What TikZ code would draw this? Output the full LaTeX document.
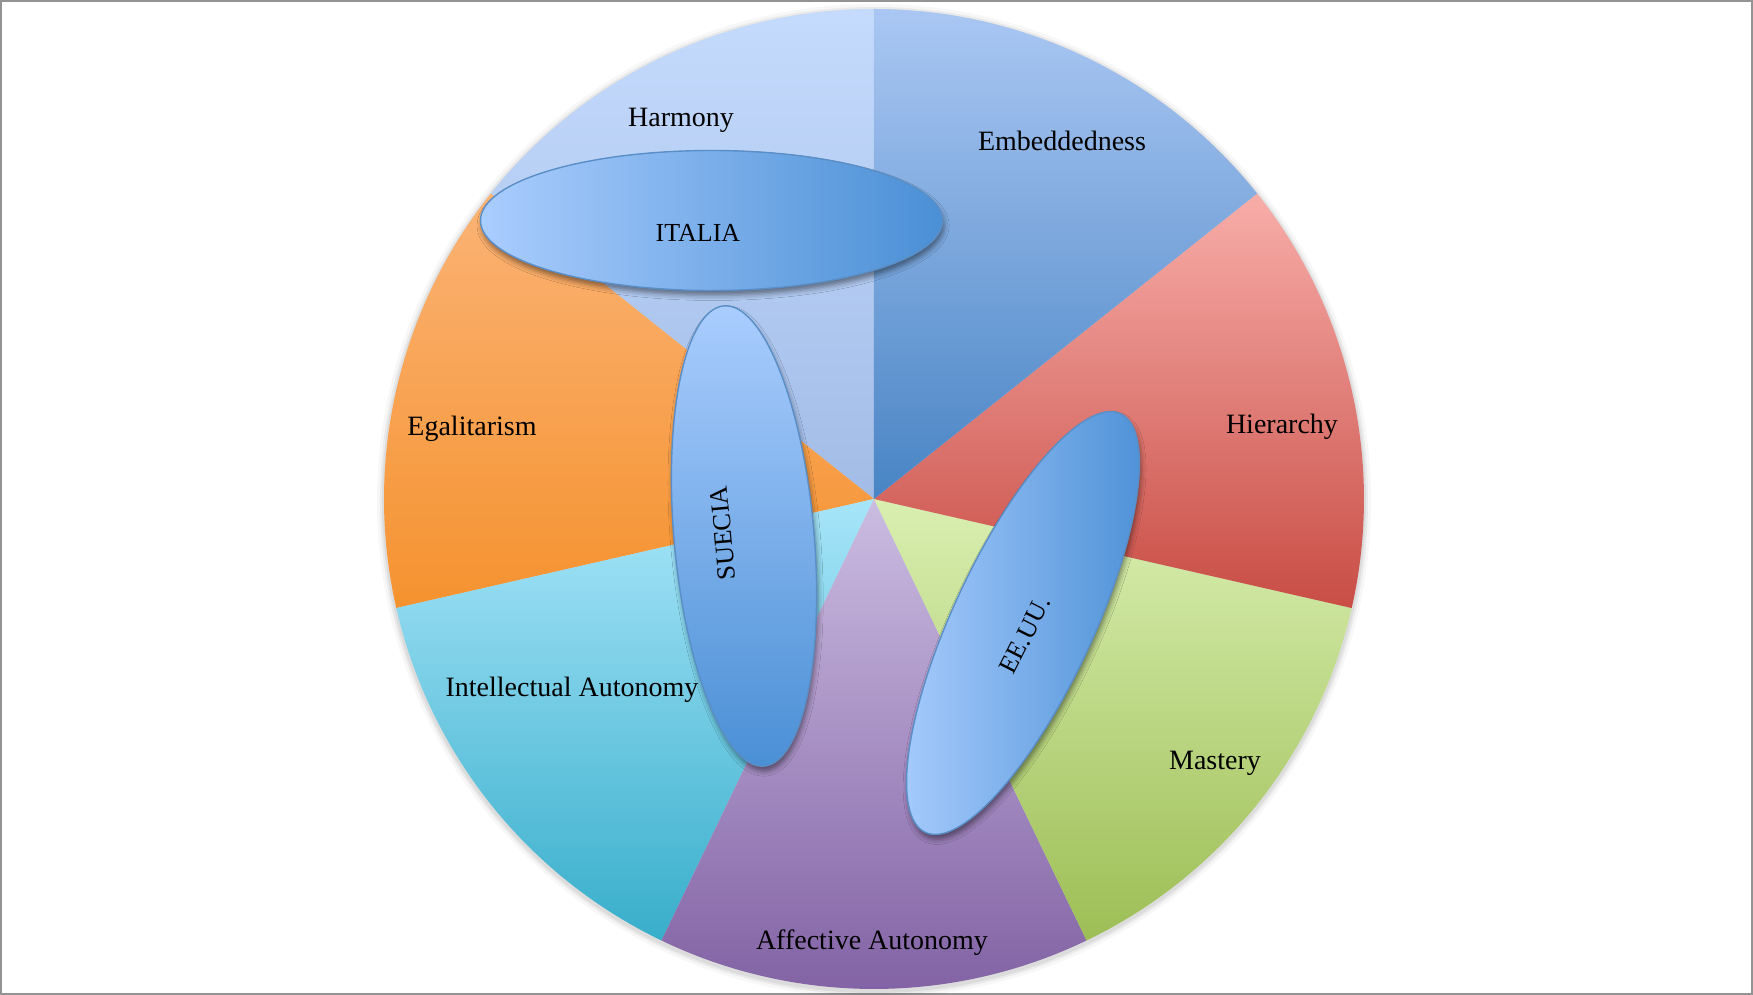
\documentclass[tikz,border=0pt]{standalone}
\usepackage{fontspec}
\setmainfont{Liberation Serif}
\usetikzlibrary{shapes.geometric,shadows.blur}

% slice colours (light at the top, dark at the bottom)
\definecolor{harmonyTop}{HTML}{C5DBFD}
\definecolor{harmonyBot}{HTML}{A2BCE7}
\definecolor{embedTop}{HTML}{AAC7F3}
\definecolor{embedBot}{HTML}{4884C4}
\definecolor{hierTop}{HTML}{F8ADA9}
\definecolor{hierBot}{HTML}{C84D45}
\definecolor{masteryTop}{HTML}{D9EFB1}
\definecolor{masteryBot}{HTML}{9DBE55}
\definecolor{affectTop}{HTML}{CBBCE1}
\definecolor{affectBot}{HTML}{8060A3}
\definecolor{intelTop}{HTML}{A7E5F9}
\definecolor{intelBot}{HTML}{38AECB}
\definecolor{egalTop}{HTML}{FBB375}
\definecolor{egalBot}{HTML}{F5922F}
% country ellipses
\definecolor{countryLight}{HTML}{AACDFE}
\definecolor{countryDark}{HTML}{4A8FD5}
\definecolor{countryLine}{HTML}{5A8EC6}

\tikzset{
  slice label/.style={font=\fontsize{14}{16}\selectfont, text=black},
  country/.style={ellipse,
    draw=countryLine,
    line width=0.7pt,
    minimum width=231pt,
    minimum height=70pt,
    inner sep=0pt,
    blur shadow={shadow xshift=0.8pt, shadow yshift=-2.5pt,
                 shadow blur radius=2.5pt, shadow opacity=45}},
  country label/.style={font=\fontsize{13}{15}\selectfont, text=black}
}

\begin{document}
\begin{tikzpicture}[x=0.5pt,y=0.5pt]

\useasboundingbox (-874,499) rectangle (879,-496);

% Frame
\draw[gray!85, line width=1pt] (-873,498) rectangle (878,-495);

% Soft halo under the wheel
\fill[black, opacity=0.03] (0,-2) circle (497);
\fill[black, opacity=0.05] (0,-2) circle (494);
\fill[black, opacity=0.06] (0,-2) circle (492);

% Harmony slice
\shade[top color=harmonyTop, bottom color=harmonyBot]
    (0,0) -- (90:490) arc[start angle=90, end angle=141.43, radius=490] -- cycle;

% Egalitarism slice
\shade[top color=egalTop, bottom color=egalBot]
    (0,0) -- (141.43:490) arc[start angle=141.43, end angle=192.86, radius=490] -- cycle;

% Intellectual Autonomy slice
\shade[top color=intelTop, bottom color=intelBot]
    (0,0) -- (192.86:490) arc[start angle=192.86, end angle=244.29, radius=490] -- cycle;

% Affective Autonomy slice
\shade[top color=affectTop, bottom color=affectBot]
    (0,0) -- (244.29:490) arc[start angle=244.29, end angle=295.71, radius=490] -- cycle;

% Mastery slice
\shade[top color=masteryTop, bottom color=masteryBot]
    (0,0) -- (295.71:490) arc[start angle=295.71, end angle=347.14, radius=490] -- cycle;

% Hierarchy slice
\shade[top color=hierTop, bottom color=hierBot]
    (0,0) -- (-12.86:490) arc[start angle=-12.86, end angle=38.57, radius=490] -- cycle;

% Embeddedness slice
\shade[top color=embedTop, bottom color=embedBot]
    (0,0) -- (38.57:490) arc[start angle=38.57, end angle=90, radius=490] -- cycle;

% Slice names
\node[slice label] (harmony) at (-193,379) {Harmony};
\node[slice label] (embedded) at (188,358) {Embeddedness};
\node[slice label] (hierarchy) at (408,72) {Hierarchy};
\node[slice label] (mastery) at (341,-264) {Mastery};
\node[slice label] (affective) at (-2,-444) {Affective Autonomy};
\node[slice label] (intellectual) at (-302,-191) {Intellectual Autonomy};
\node[slice label] (egalitarism) at (-402,70) {Egalitarism};

% Italy, lying flat over Harmony
\node[country,
    left color=countryLight,
    right color=countryDark] (italia) at (-162.5,278.5) {};
\node[country label] (italiatext) at (-176,266) {ITALIA};

% Sweden, standing almost upright
\node[country,
    rotate=95,
    top color=countryLight,
    bottom color=countryDark] (suecia) at (-130,-37) {};
\node[country label, rotate=95] (sueciatext) at (-151,-34) {SUECIA};

% USA, tilted across Hierarchy and Mastery
\node[country,
    rotate=65,
    left color=countryLight,
    right color=countryDark] (eeuu) at (149,-124) {};
\node[country label, rotate=63] (eeuutext) at (151,-136) {EE.UU.};

\end{tikzpicture}
\end{document}
